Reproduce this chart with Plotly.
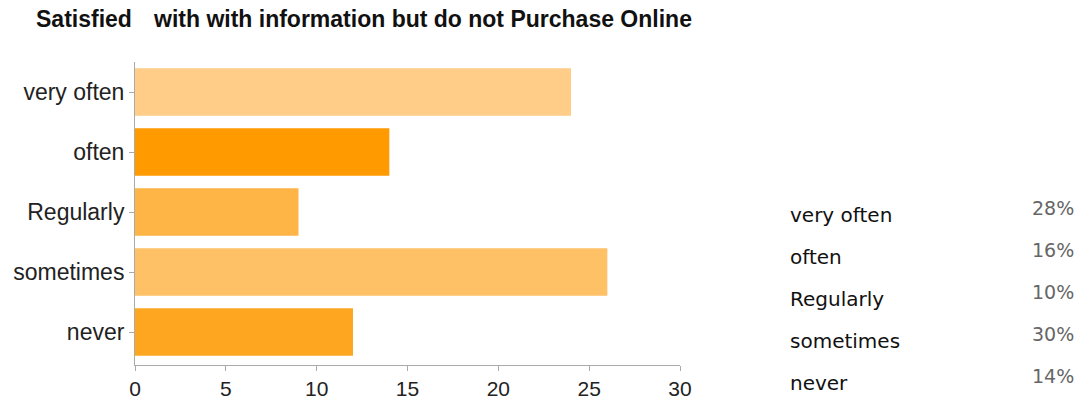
import math
import plotly.graph_objects as go

# Survey responses: how often people who are satisfied with the information still don't buy online
categories = ["very often", "often", "Regularly", "sometimes", "never"]
counts = [24, 14, 9, 26, 12]
bar_colors = ["#FFCD87", "#FF9A00", "#FFB446", "#FFC166", "#FFA621"]
x_ticks = [0, 5, 10, 15, 20, 25, 30]

total = sum(counts)
shares = [f"{math.floor(c * 100 / total)}%" for c in counts]

# Plot area in pixels
PL, PR, PT, PB = 135, 680, 62, 365
PW, PH = PR - PL, PB - PT

fig = go.Figure(
    go.Bar(
        x=counts,
        y=categories,
        orientation="h",
        width=0.79,
        marker=dict(color=bar_colors, line=dict(width=0)),
        hoverinfo="x+y",
    )
)

fig.update_layout(
    width=1078,
    height=400,
    margin=dict(l=PL, r=1078 - PR, t=PT, b=400 - PB, autoexpand=False),
    paper_bgcolor="white",
    plot_bgcolor="white",
    showlegend=False,
    font=dict(family="Liberation Sans, Arial, sans-serif", color="#222"),
)

fig.update_xaxes(
    range=[0, 30],
    tickvals=x_ticks,
    ticks="outside",
    ticklen=5,
    tickcolor="#aaa",
    showline=True,
    linecolor="#aaa",
    linewidth=1,
    showgrid=False,
    zeroline=False,
    automargin=False,
    tickfont=dict(size=21, color="#222"),
)

fig.update_yaxes(
    categoryorder="array",
    categoryarray=categories,
    range=[4.55, -0.5],
    ticks="outside",
    ticklen=5,
    tickcolor="#aaa",
    showline=True,
    linecolor="#aaa",
    linewidth=1,
    showgrid=False,
    zeroline=False,
    automargin=False,
    tickfont=dict(size=23, color="#222"),
)


def px_x(x):
    return (x - PL) / PW


def px_y(y):
    return (PB - y) / PH


# Title in two pieces with a wider gap after the first word
title_font = dict(size=23, color="#111", family="Liberation Sans, Arial")
fig.add_annotation(
    text="<b>Satisfied</b>", xref="paper", yref="paper",
    x=px_x(34), y=px_y(19), xanchor="left", yanchor="middle",
    showarrow=False, font=title_font,
)
fig.add_annotation(
    text="<b>with with information but do not Purchase Online</b>",
    xref="paper", yref="paper",
    x=px_x(151), y=px_y(19), xanchor="left", yanchor="middle",
    showarrow=False, font=title_font,
)

# Side table: category names with their share of responses
row_y = [215, 257, 299, 341, 383]
for name, share, py in zip(categories, shares, row_y):
    fig.add_annotation(
        text=name, xref="paper", yref="paper",
        x=px_x(788), y=px_y(py), xanchor="left", yanchor="middle",
        showarrow=False,
        font=dict(size=20, color="#111", family="DejaVu Sans, sans-serif"),
    )
    fig.add_annotation(
        text=share, xref="paper", yref="paper",
        x=px_x(1076), y=px_y(py - 7), xanchor="right", yanchor="middle",
        showarrow=False,
        font=dict(size=19, color="#666", family="DejaVu Sans, sans-serif"),
    )

fig.write_html("out.html")
